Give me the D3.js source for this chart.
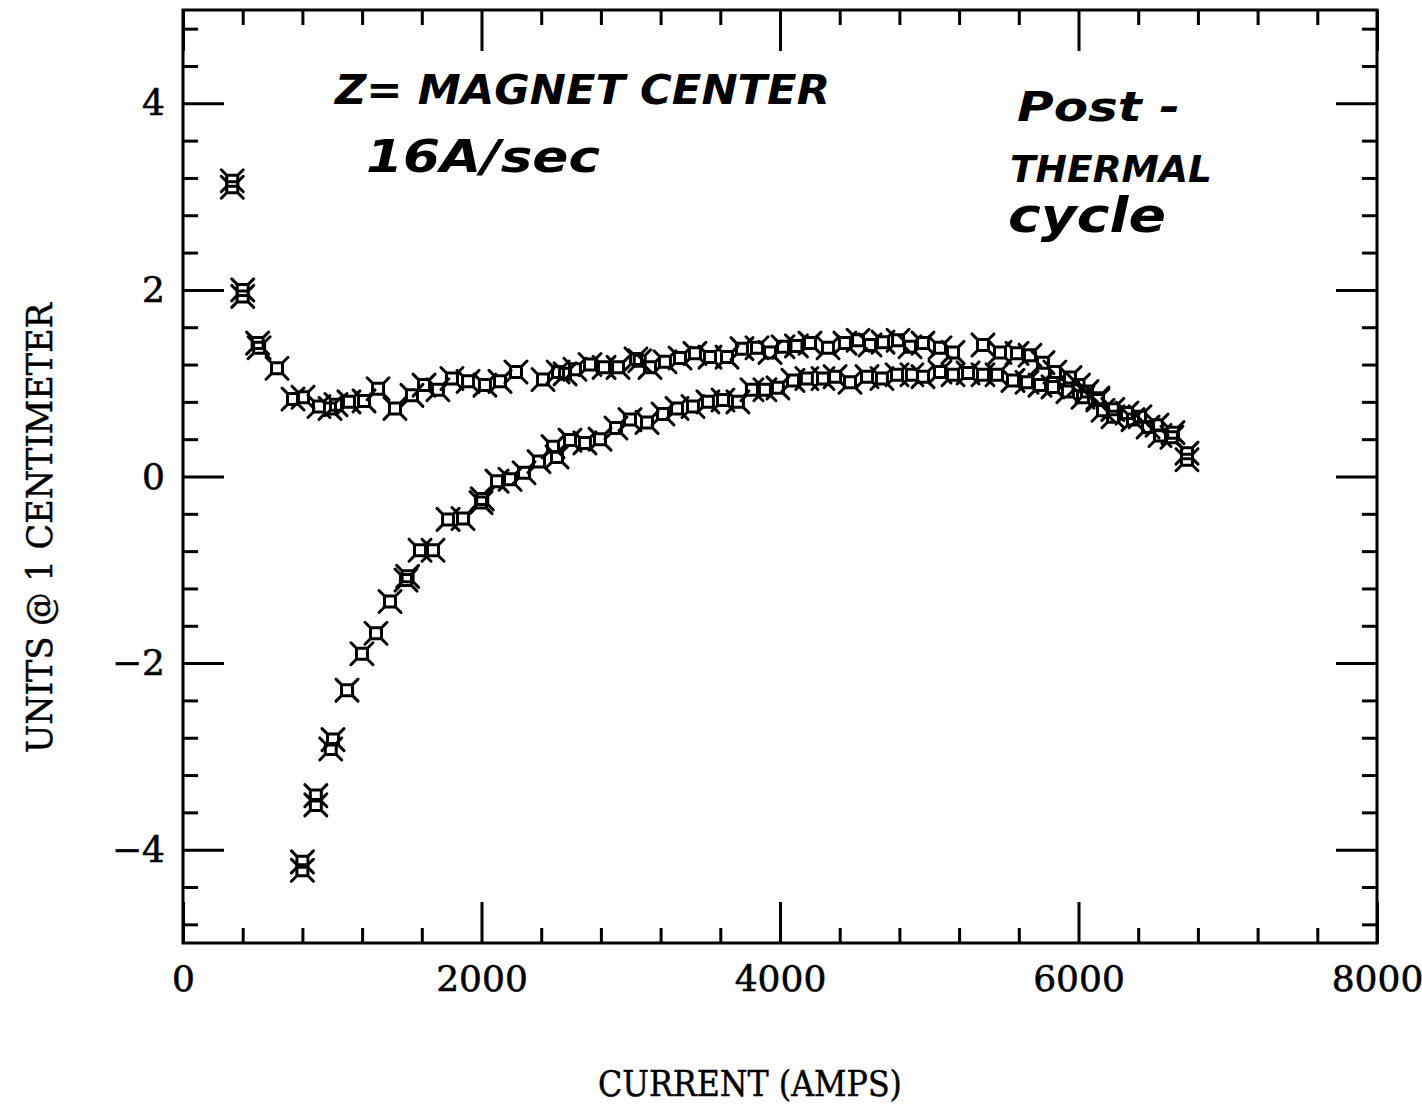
<!DOCTYPE html>
<html>
<head>
<meta charset="utf-8">
<script src="https://cdn.jsdelivr.net/npm/d3@7"></script>
<style>
  html, body { margin: 0; padding: 0; background: #fff; }
  svg { display: block; }
</style>
</head>
<body>
<svg id="chart" width="1422" height="1106"></svg>
<script>
// ---- data ----
const xTickValues = [0, 2000, 4000, 6000, 8000];
const xTickLabels = ["0", "2000", "4000", "6000", "8000"];
const yTickValues = [-4, -2, 0, 2, 4];
const yTickLabels = ["\u22124", "\u22122", "0", "2", "4"];

const xTitle = "CURRENT (AMPS)";
const yTitle = "UNITS @ 1 CENTIMETER";
const notes = ["Z= MAGNET CENTER", "16A/sec", "Post -", "THERMAL", "cycle"];

// upper branch (amps, units)
const upperAmps = [330, 330, 400, 400, 500, 510, 630, 737, 804, 911, 985, 1025, 1112, 1213, 1307, 1420, 1534, 1615, 1708, 1802, 1910, 2023, 2124, 2231, 2412, 2513, 2560, 2626, 2727, 2821, 2915, 3035, 3060, 3129, 3229, 3330, 3430, 3531, 3645, 3745, 3846, 3933, 4020, 4110, 4201, 4322, 4435, 4523, 4603, 4690, 4791, 4871, 4958, 5072, 5159, 5360, 5474, 5588, 5675, 5762, 5842, 5943, 6000, 6057, 6130, 6230, 6325, 6412, 6526, 6633, 6727];
const upperUnits = [3.17, 3.10, 2.00, 1.93, 1.43, 1.38, 1.16, 0.83, 0.85, 0.75, 0.73, 0.77, 0.80, 0.81, 0.94, 0.73, 0.87, 0.98, 0.93, 1.05, 1.02, 0.98, 1.02, 1.12, 1.04, 1.12, 1.10, 1.15, 1.20, 1.17, 1.17, 1.26, 1.24, 1.17, 1.23, 1.27, 1.32, 1.28, 1.28, 1.37, 1.38, 1.33, 1.39, 1.40, 1.43, 1.38, 1.43, 1.46, 1.41, 1.44, 1.46, 1.39, 1.43, 1.38, 1.33, 1.41, 1.33, 1.32, 1.30, 1.22, 1.12, 1.06, 0.98, 0.91, 0.84, 0.72, 0.68, 0.64, 0.55, 0.47, 0.25];

// lower branch (amps, units)
const lowerAmps = [800, 800, 890, 890, 990, 1005, 1099, 1199, 1293, 1387, 1494, 1505, 1588, 1675, 1776, 1876, 1997, 2005, 2104, 2191, 2285, 2385, 2479, 2506, 2593, 2693, 2794, 2901, 2995, 3109, 3216, 3310, 3417, 3517, 3618, 3718, 3812, 3899, 3986, 4087, 4180, 4288, 4369, 4469, 4583, 4683, 4784, 4884, 4958, 5072, 5159, 5260, 5360, 5454, 5561, 5655, 5742, 5829, 5929, 6030, 6130, 6164, 6231, 6365, 6466, 6546, 6626, 6727];
const lowerUnits = [-4.13, -4.22, -3.42, -3.52, -2.92, -2.82, -2.29, -1.90, -1.68, -1.34, -1.11, -1.07, -0.79, -0.79, -0.46, -0.45, -0.28, -0.24, -0.05, -0.03, 0.04, 0.16, 0.32, 0.21, 0.39, 0.36, 0.40, 0.52, 0.61, 0.58, 0.67, 0.73, 0.75, 0.80, 0.82, 0.80, 0.93, 0.93, 0.95, 1.03, 1.05, 1.05, 1.07, 1.01, 1.07, 1.05, 1.09, 1.09, 1.07, 1.12, 1.09, 1.11, 1.09, 1.09, 1.03, 1.01, 0.98, 0.96, 0.91, 0.85, 0.82, 0.71, 0.64, 0.61, 0.53, 0.44, 0.42, 0.18];

// ---- layout ----
const L = 183, R = 1377, T = 10, B = 943;
const svg = d3.select("#chart");
const x = d3.scaleLinear().domain([0, 8000]).range([L, R]);
const y = d3.scaleLinear().domain([-5, 5]).range([B, T]);

const minorX = d3.range(0, 8001, 400).filter(v => v % 2000 !== 0);
const minorY = d3.range(-48, 49, 4).map(v => v / 10).filter(v => Math.abs(v % 2) > 1e-9 && Math.abs(v) < 5);

const axisStyle = g => {
  g.select(".domain").remove();
  g.selectAll(".tick line").attr("stroke", "#000").attr("stroke-width", 3);
};
const labelStyle = t => t.attr("font-family", "DejaVu Serif").attr("font-size", 36)
  .attr("fill", "#000").attr("stroke", "#000").attr("stroke-width", 0.6);

const MAJ = 41, MIN = 15;
// bottom
svg.append("g").attr("transform", `translate(0,${B})`)
  .call(d3.axisBottom(x).tickValues(xTickValues).tickSize(-MAJ).tickSizeOuter(0)
    .tickFormat((d, i) => xTickLabels[i]))
  .call(axisStyle)
  .call(g => g.selectAll(".tick text").call(labelStyle).attr("dy", "0.72em").attr("y", 22));
svg.append("g").attr("transform", `translate(0,${B})`)
  .call(d3.axisBottom(x).tickValues(minorX).tickSize(-MIN).tickFormat(""))
  .call(axisStyle);
// top
svg.append("g").attr("transform", `translate(0,${T})`)
  .call(d3.axisTop(x).tickValues(xTickValues).tickSize(-MAJ).tickFormat(""))
  .call(axisStyle);
svg.append("g").attr("transform", `translate(0,${T})`)
  .call(d3.axisTop(x).tickValues(minorX).tickSize(-MIN).tickFormat(""))
  .call(axisStyle);
// left
svg.append("g").attr("transform", `translate(${L},0)`)
  .call(d3.axisLeft(y).tickValues(yTickValues).tickSize(-MAJ).tickSizeOuter(0)
    .tickFormat((d, i) => yTickLabels[i]))
  .call(axisStyle)
  .call(g => g.selectAll(".tick text").call(labelStyle).attr("x", -18).attr("text-anchor", "end"));
svg.append("g").attr("transform", `translate(${L},0)`)
  .call(d3.axisLeft(y).tickValues(minorY).tickSize(-MIN).tickFormat(""))
  .call(axisStyle);
// right
svg.append("g").attr("transform", `translate(${R},0)`)
  .call(d3.axisRight(y).tickValues(yTickValues).tickSize(-MAJ).tickFormat(""))
  .call(axisStyle);
svg.append("g").attr("transform", `translate(${R},0)`)
  .call(d3.axisRight(y).tickValues(minorY).tickSize(-MIN).tickFormat(""))
  .call(axisStyle);

// frame
svg.append("rect").attr("x", L).attr("y", T).attr("width", R - L).attr("height", B - T)
  .attr("fill", "none").attr("stroke", "#000").attr("stroke-width", 3);

// marker: square with diagonal whiskers at the corners
const starSquare = {
  draw(ctx, size) {
    const s = 5.5, w = 11;
    ctx.moveTo(-s, -s); ctx.lineTo(s, -s); ctx.lineTo(s, s); ctx.lineTo(-s, s); ctx.closePath();
    ctx.moveTo(-s, -s); ctx.lineTo(-w, -w);
    ctx.moveTo(s, -s); ctx.lineTo(w, -w);
    ctx.moveTo(s, s); ctx.lineTo(w, w);
    ctx.moveTo(-s, s); ctx.lineTo(-w, w);
  }
};
const sym = d3.symbol().type(starSquare).size(100);

const series = [
  { amps: upperAmps, units: upperUnits },
  { amps: lowerAmps, units: lowerUnits }
];
series.forEach(s => {
  const pts = s.amps.map((a, i) => [a, s.units[i]]);
  svg.append("g").selectAll("path").data(pts).join("path")
    .attr("d", sym)
    .attr("transform", d => `translate(${x(d[0])},${y(d[1])})`)
    .attr("fill", "none").attr("stroke", "#000").attr("stroke-width", 3)
    .attr("stroke-linecap", "round");
});

// axis titles
svg.append("text").attr("x", 750).attr("y", 1096).attr("text-anchor", "middle")
  .attr("font-family", "DejaVu Serif").attr("font-size", 36)
  .attr("stroke", "#000").attr("stroke-width", 0.5)
  .attr("textLength", 304).attr("lengthAdjust", "spacingAndGlyphs").text(xTitle);
svg.append("text").attr("transform", "translate(52,528) rotate(-90)").attr("text-anchor", "middle")
  .attr("font-family", "DejaVu Serif").attr("font-size", 36)
  .attr("stroke", "#000").attr("stroke-width", 0.5)
  .attr("textLength", 450).attr("lengthAdjust", "spacingAndGlyphs").text(yTitle);

// handwritten annotations
const hand = [
  { t: notes[0], x: 335, y: 104, w: 495, fs: 40 },
  { t: notes[1], x: 366, y: 172, w: 234, fs: 44 },
  { t: notes[2], x: 1017, y: 121, w: 163, fs: 40 },
  { t: notes[3], x: 1010, y: 182, w: 202, fs: 38 },
  { t: notes[4], x: 1008, y: 232, w: 158, fs: 48 }
];
svg.append("g").selectAll("text").data(hand).join("text")
  .attr("x", d => d.x).attr("y", d => d.y)
  .attr("font-family", "DejaVu Sans").attr("font-style", "italic").attr("font-weight", "bold")
  .attr("font-size", d => d.fs)
  .attr("textLength", d => d.w).attr("lengthAdjust", "spacingAndGlyphs")
  .attr("fill", "#000").text(d => d.t);
</script>
</body>
</html>
